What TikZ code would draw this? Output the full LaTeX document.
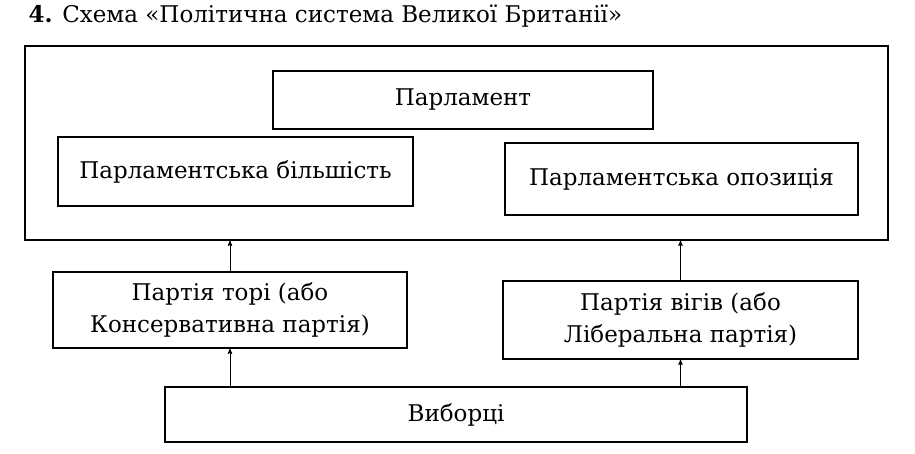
\documentclass[tikz,border=0pt]{standalone}
\usepackage{fontspec}
\setmainfont{DejaVu Serif}
\usepackage{tikz}
\usetikzlibrary{arrows}

\begin{document}
\begin{tikzpicture}[x=1pt,y=-1pt,>=stealth',shorten >=0pt,
  box/.style={draw,line width=1.3pt,inner sep=0pt,align=center,font=\fontsize{23}{32}\selectfont},
  link/.style={->,line width=0.9pt}]
  \useasboundingbox (0,0) rectangle (915,453);
  \node[anchor=base west,font=\fontsize{23}{26}\selectfont] (title) at (25,22) {\textbf{4.} Схема «Політична система Великої Британії»};

  \node[box,minimum width=863pt,minimum height=194pt] (system) at (456.5,143) {};
  \node[box,minimum width=380pt,minimum height=58pt]  (parl) at (463,100)   {Парламент};
  \node[box,minimum width=355pt,minimum height=69pt]  (maj)  at (235.5,171.5) {Парламентська більшість};
  \node[box,minimum width=353pt,minimum height=72pt]  (opp)  at (681.5,179) {Парламентська опозиція};

  \node[box,minimum width=354pt,minimum height=76pt]  (tory) at (230,310)   {Партія торі (або\\Консервативна партія)};
  \node[box,minimum width=355pt,minimum height=78pt]  (whig) at (680.5,320) {Партія вігів (або\\Ліберальна партія)};
  \node[box,minimum width=582pt,minimum height=55pt]  (vyb)  at (456,414.5) {Виборці};

  \draw[link] (tory.north) -- (tory.north |- system.south);
  \draw[link] (whig.north) -- (whig.north |- system.south);
  \draw[link] (vyb.north -| tory.south) -- (tory.south);
  \draw[link] (vyb.north -| whig.south) -- (whig.south);
\end{tikzpicture}
\end{document}
